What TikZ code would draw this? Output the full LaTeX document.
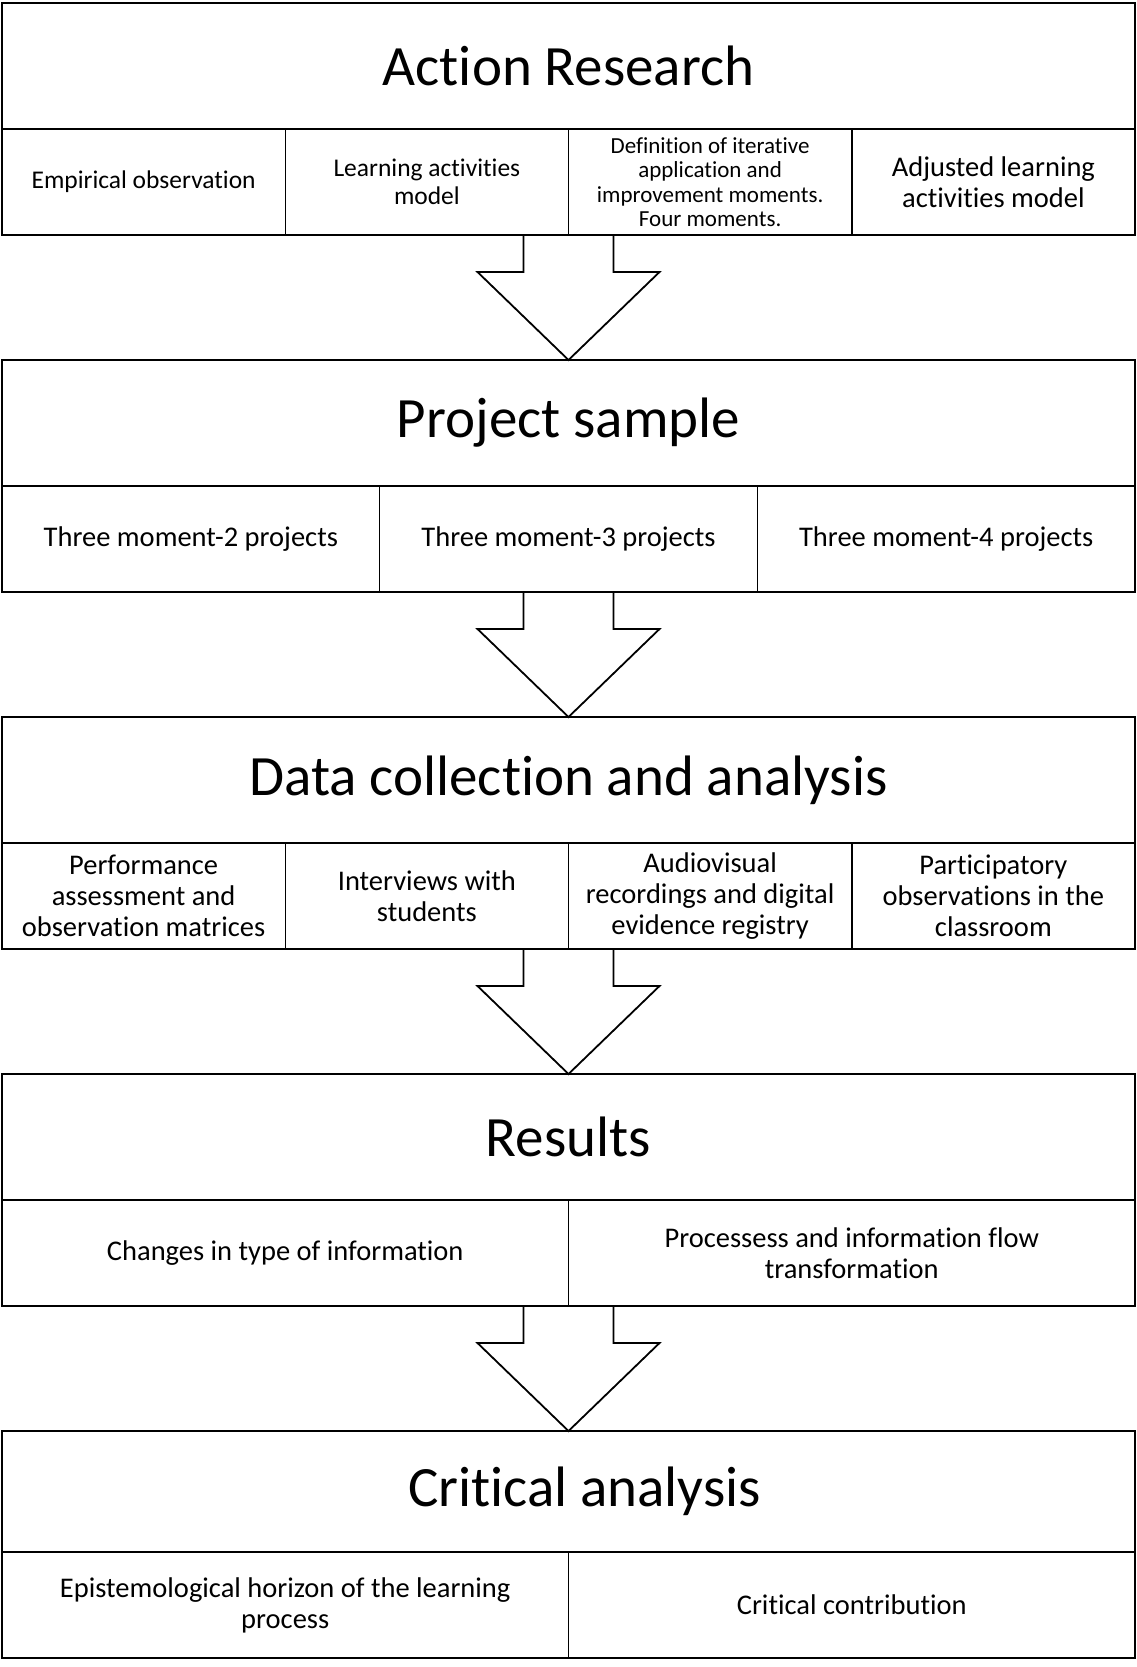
\documentclass[tikz,border=0pt]{standalone}
\usepackage{fontspec}
\setmainfont{Carlito}[Ligatures=NoCommon]
\usetikzlibrary{positioning,calc}

% block arrow from the bottom of a row (#1) down to the next header (#2)
\newcommand{\flowarrow}[2]{%
  \draw[bigarrow] ($(#2.north |- #1.south)+(-45,0)$) -- ($(#2.north)+(-45,-88)$)
    -- ($(#2.north)+(-91,-88)$) -- (#2.north) -- ($(#2.north)+(91,-88)$)
    -- ($(#2.north)+(45,-88)$) -- ($(#2.north |- #1.south)+(45,0)$);}

\begin{document}
\begin{tikzpicture}[
    x=1pt, y=-1pt,
    header/.style={draw, line width=2pt, minimum width=1133pt,
                   minimum height=126pt, inner sep=0pt, outer sep=0pt,
                   font=\fontsize{57}{61}\selectfont},
    cell/.style={draw, line width=1.5pt, minimum height=106pt,
                 inner sep=3pt, outer sep=0pt, align=center,
                 font=\fontsize{28.5}{31}\selectfont},
    cellfour/.style={cell, minimum width=283.25pt},
    cellthree/.style={cell, minimum width=377.67pt},
    celltwo/.style={cell, minimum width=566.5pt},
    frame/.style={draw, line width=2.4pt},
    bigarrow/.style={draw, line width=1.8pt, line join=miter}
]
  \useasboundingbox (0,0) rectangle (1137,1667);

  % Action Research
  \node[header] (hdrA) at (568.5,66) {Action Research};
  \node[cellfour, below right=0pt and 0pt of hdrA.south west,
        font=\fontsize{25.5}{28}\selectfont] (cA1) {Empirical observation};
  \node[cellfour, right=0pt of cA1,
        font=\fontsize{25.5}{28}\selectfont] (cA2) {Learning activities\\model};
  \node[cellfour, right=0pt of cA2, inner sep=1pt,
        font=\fontsize{23}{24.5}\selectfont] (cA3)
        {Definition of iterative\\application and\\improvement moments.\\Four moments.};
  \node[cellfour, right=0pt of cA3] (cA4) {Adjusted learning\\activities model};
  \draw[frame] (hdrA.north west) rectangle (cA4.south east);

  % Project sample
  \node[header, below=231pt of hdrA] (hdrB) {Project sample};
  \node[cellthree, below right=0pt and 0pt of hdrB.south west] (cB1) {Three moment-2 projects};
  \node[cellthree, right=0pt of cB1] (cB2) {Three moment-3 projects};
  \node[cellthree, right=0pt of cB2] (cB3) {Three moment-4 projects};
  \draw[frame] (hdrB.north west) rectangle (cB3.south east);

  % Data collection and analysis
  \node[header, below=231pt of hdrB] (hdrC) {Data collection and analysis};
  \node[cellfour, below right=0pt and 0pt of hdrC.south west] (cC1)
        {Performance\\assessment and\\observation matrices};
  \node[cellfour, right=0pt of cC1] (cC2) {Interviews with\\students};
  \node[cellfour, right=0pt of cC2] (cC3)
        {Audiovisual\\recordings and digital\\evidence registry};
  \node[cellfour, right=0pt of cC3] (cC4)
        {Participatory\\observations in the\\classroom};
  \draw[frame] (hdrC.north west) rectangle (cC4.south east);

  % Results
  \node[header, below=231pt of hdrC] (hdrD) {Results};
  \node[celltwo, below right=0pt and 0pt of hdrD.south west] (cD1)
        {Changes in type of information};
  \node[celltwo, right=0pt of cD1] (cD2)
        {Processess and information flow\\transformation};
  \draw[frame] (hdrD.north west) rectangle (cD2.south east);

  % Critical analysis
  \node[header, below=231pt of hdrD, minimum height=121pt] (hdrE)
        {\hspace*{32pt}Critical analysis};
  \node[celltwo, below right=0pt and 0pt of hdrE.south west] (cE1)
        {Epistemological horizon of the learning\\process};
  \node[celltwo, right=0pt of cE1] (cE2) {Critical contribution};
  \draw[frame] (hdrE.north west) rectangle (cE2.south east);

  \flowarrow{cA1}{hdrB}
  \flowarrow{cB1}{hdrC}
  \flowarrow{cC1}{hdrD}
  \flowarrow{cD1}{hdrE}
\end{tikzpicture}
\end{document}
